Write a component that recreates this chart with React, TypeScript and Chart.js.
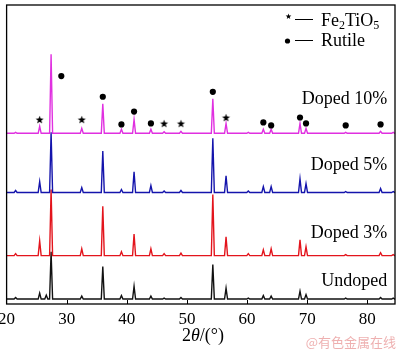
import { useEffect, useRef } from "react";
import { Chart, registerables } from "chart.js";
Chart.register(...registerables);

const X_MIN = 20;
const X_MAX = 84.6;
const xTicks = [20, 30, 40, 50, 60, 70, 80];

// 2θ positions of diffraction peaks
const peakPositions = [21.5, 25.5, 26.6, 27.4, 32.5, 36.0, 39.1, 41.2, 44.0, 46.2, 49.0, 54.3, 56.5, 60.2, 62.7, 64.0, 68.8, 69.8, 76.4, 82.2, 84.3];
// peak heights above each trace baseline (arbitrary units)
const undoped = [1.5, 6, 4, 48, 3, 33, 3.5, 13, 3, 1, 1.5, 35, 11, 1, 3.5, 3, 8, 4.5, 1, 1.5, 1];
const doped3 = [2, 15, 0, 67, 7, 50, 4, 22, 7, 2, 2.5, 62, 19, 2, 6, 7, 16, 9, 1, 3, 1];
const doped5 = [2, 11, 0, 61, 5, 42, 3, 21, 7, 1.5, 2, 55, 17, 1.5, 6, 6, 14, 9, 1, 4, 1];
const doped10 = [1, 7, 0, 80, 5, 30, 4, 14, 4, 1.5, 2, 35, 10, 1, 4, 4, 10, 5, 1, 2, 1];
// vertical offsets of the stacked traces
const baselines = [5, 49, 113, 173];
const seriesLabels = ["Undoped", "Doped 3%", "Doped 5%", "Doped 10%"];
const labelY = [23, 72, 141, 207];
const seriesColors = ["#111111", "#e3141c", "#1414ac", "#e030e0"];

const starMarkers = [[25.5, 187], [32.5, 187], [46.2, 183], [49.0, 183], [56.5, 189]];
const circleMarkers = [[29.1, 231], [36.0, 210], [39.1, 182], [41.2, 195], [44.0, 183], [54.3, 215], [62.7, 184], [64.0, 181], [68.8, 189], [69.8, 183], [76.4, 181], [82.2, 182]];

const PEAK_HW = 0.25;

function buildTrace(base: number, heights: number[]) {
  const pts: { x: number; y: number }[] = [{ x: X_MIN, y: base }];
  peakPositions.forEach((p, i) => {
    const h = heights[i];
    if (!h) return;
    pts.push({ x: p - PEAK_HW, y: base }, { x: p, y: base + h }, { x: p + PEAK_HW, y: base });
  });
  pts.push({ x: X_MAX, y: base });
  return pts;
}

function starPath(ctx: CanvasRenderingContext2D, cx: number, cy: number, r: number) {
  ctx.beginPath();
  for (let i = 0; i < 10; i++) {
    const rr = i % 2 === 0 ? r : r * 0.42;
    const a = -Math.PI / 2 + (i * Math.PI) / 5;
    const px = cx + rr * Math.cos(a);
    const py = cy + rr * Math.sin(a);
    if (i === 0) ctx.moveTo(px, py);
    else ctx.lineTo(px, py);
  }
  ctx.closePath();
}

function makeStar(r: number) {
  const c = document.createElement("canvas");
  const s = Math.ceil(r * 2 + 2);
  c.width = s;
  c.height = s;
  const g = c.getContext("2d")!;
  g.fillStyle = "#000";
  starPath(g, s / 2, s / 2 + 0.5, r);
  g.fill();
  return c;
}

const SERIF = '"Liberation Serif", "Times New Roman", serif';

export default function App() {
  const ref = useRef<HTMLCanvasElement | null>(null);
  useEffect(() => {
    document.body.style.margin = "0";
    const canvas = ref.current!;
    const series = [undoped, doped3, doped5, doped10];
    const star = makeStar(4.2);

    const overlay = {
      id: "overlay",
      afterDraw(chart: any) {
        const ctx = chart.ctx as CanvasRenderingContext2D;
        const { left, right, top, bottom } = chart.chartArea;
        const xs = chart.scales.x;
        const ys = chart.scales.y;
        ctx.save();
        // frame
        ctx.strokeStyle = "#000";
        ctx.lineWidth = 1.3;
        ctx.strokeRect(left, top, right - left, bottom - top);
        // inward ticks
        ctx.lineWidth = 1;
        xTicks.slice(1).forEach((v) => {
          const px = Math.round(xs.getPixelForValue(v)) + 0.5;
          ctx.beginPath();
          ctx.moveTo(px, bottom);
          ctx.lineTo(px, bottom - 4);
          ctx.stroke();
        });
        // series labels
        ctx.fillStyle = "#000";
        ctx.font = `18px ${SERIF}`;
        ctx.textAlign = "right";
        ctx.textBaseline = "middle";
        seriesLabels.forEach((t, i) => {
          ctx.fillText(t, xs.getPixelForValue(83.3), ys.getPixelForValue(labelY[i]));
        });
        // legend
        ctx.textAlign = "left";
        ctx.textBaseline = "alphabetic";
        starPath(ctx, 288.5, 16.5, 3);
        ctx.fill();
        ctx.beginPath();
        ctx.arc(287.5, 41, 2.6, 0, Math.PI * 2);
        ctx.fill();
        ctx.lineWidth = 1;
        ctx.beginPath();
        ctx.moveTo(295, 19.5);
        ctx.lineTo(313, 19.5);
        ctx.moveTo(295, 40.5);
        ctx.lineTo(313, 40.5);
        ctx.stroke();
        let x = 321;
        const parts: [string, boolean][] = [["Fe", false], ["2", true], ["TiO", false], ["5", true]];
        parts.forEach(([t, sub]) => {
          ctx.font = sub ? `12px ${SERIF}` : `18px ${SERIF}`;
          ctx.fillText(t, x, sub ? 29 : 26);
          x += ctx.measureText(t).width;
        });
        ctx.font = `18px ${SERIF}`;
        ctx.fillText("Rutile", 321, 46);
        // x title
        const tparts: [string, string][] = [["2", `18px ${SERIF}`], ["θ", `italic 18px ${SERIF}`], ["/(°)", `18px ${SERIF}`]];
        let tw = 0;
        tparts.forEach(([t, f]) => { ctx.font = f; tw += ctx.measureText(t).width; });
        let tx = 203 - tw / 2;
        tparts.forEach(([t, f]) => {
          ctx.font = f;
          ctx.fillText(t, tx, 341);
          tx += ctx.measureText(t).width;
        });
        // watermark
        ctx.font = '13px "Noto Sans CJK SC", sans-serif';
        ctx.fillStyle = "rgba(232,150,150,0.75)";
        ctx.textAlign = "right";
        ctx.fillText("@有色金属在线", 396, 347);
        ctx.restore();
      },
    };

    const chart = new Chart(canvas, {
      type: "line",
      data: {
        datasets: [
          {
            type: "scatter",
            data: starMarkers.map(([x, y]) => ({ x, y })),
            pointStyle: star as any,
            pointRadius: 4,
            showLine: false,
          } as any,
          {
            type: "scatter",
            data: circleMarkers.map(([x, y]) => ({ x, y })),
            pointStyle: "circle",
            pointRadius: 3.1,
            pointBackgroundColor: "#000",
            pointBorderWidth: 0,
            showLine: false,
          } as any,
          ...series
            .map((h, i) => ({
              data: buildTrace(baselines[i], h),
              borderColor: seriesColors[i],
              borderWidth: 1.4,
              pointRadius: 0,
              fill: false,
              tension: 0,
            }))
            .reverse(),
        ],
      },
      options: {
        animation: false,
        responsive: false,
        maintainAspectRatio: false,
        layout: { padding: { left: 6.6, right: 2.3, top: 1, bottom: 0 } },
        plugins: { legend: { display: false }, tooltip: { enabled: false } },
        scales: {
          x: {
            type: "linear",
            min: X_MIN,
            max: X_MAX,
            afterBuildTicks: (s: any) => {
              s.ticks = xTicks.map((v) => ({ value: v }));
            },
            afterFit: (s: any) => {
              s.height = 47;
              s.paddingLeft = 0;
              s.paddingRight = 0;
            },
            grid: { display: false },
            border: { display: false },
            ticks: {
              font: { family: SERIF, size: 17 },
              color: "#000",
              padding: -3,
              maxRotation: 0,
              autoSkip: false,
            },
          },
          y: { display: false, min: 0, max: 303 },
        },
      } as any,
      plugins: [overlay],
    });
    return () => chart.destroy();
  }, []);
  return <canvas ref={ref} width={400} height={351} style={{ display: "block" }} />;
}
